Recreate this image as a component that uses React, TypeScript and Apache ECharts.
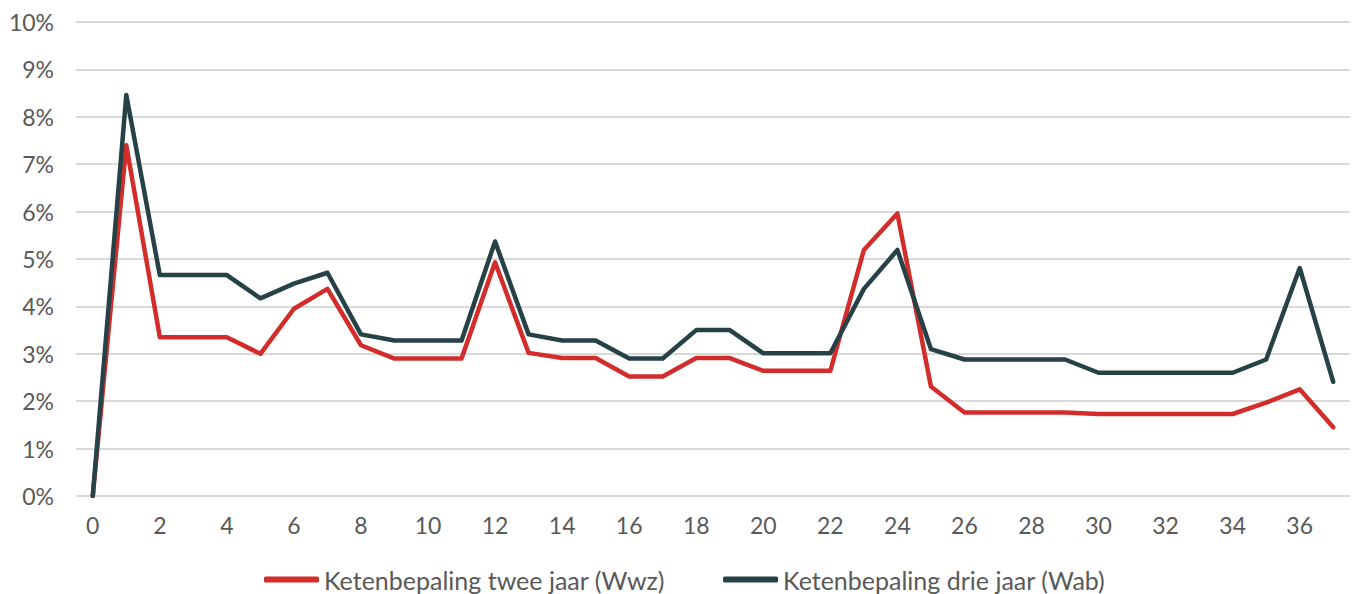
import React, { useEffect, useRef } from "react";
import * as echarts from "echarts";

const categories: string[] = Array.from({ length: 38 }, (_, i) => String(i));

const wwz: number[] = [
  0, 7.4, 3.35, 3.35, 3.35, 3.0, 3.95, 4.37, 3.18, 2.9,
  2.9, 2.9, 4.93, 3.02, 2.91, 2.91, 2.52, 2.52, 2.91, 2.91,
  2.64, 2.64, 2.64, 5.19, 5.96, 2.31, 1.76, 1.76, 1.76, 1.76,
  1.73, 1.73, 1.73, 1.73, 1.73, 1.97, 2.25, 1.45,
];

const wab: number[] = [
  0, 8.46, 4.66, 4.66, 4.66, 4.17, 4.48, 4.71, 3.41, 3.28,
  3.28, 3.28, 5.37, 3.41, 3.28, 3.28, 2.9, 2.9, 3.5, 3.5,
  3.01, 3.01, 3.01, 4.37, 5.19, 3.1, 2.88, 2.88, 2.88, 2.88,
  2.6, 2.6, 2.6, 2.6, 2.6, 2.88, 4.81, 2.41,
];

const seriesNames = ["Ketenbepaling twee jaar (Wwz)", "Ketenbepaling drie jaar (Wab)"];
const colors = ["#D22D2B", "#264247"];

export default function App() {
  const ref = useRef<HTMLDivElement>(null);
  useEffect(() => {
    if (!ref.current) return;
    const chart = echarts.init(ref.current, undefined, { renderer: "svg" });
    const font = "Lato";
    chart.setOption({
      animation: false,
      color: colors,
      grid: { left: 76, right: 3, top: 22, bottom: 98, containLabel: false },
      legend: {
        left: 259,
        top: 562,
        icon: "roundRect",
        itemWidth: 55,
        itemHeight: 6,
        itemGap: 58,
        textStyle: { fontFamily: font, fontSize: 25, color: "#595959" },
        data: seriesNames,
      },
      xAxis: {
        type: "category",
        data: categories,
        boundaryGap: true,
        axisLine: { show: false },
        axisTick: { show: false },
        axisLabel: {
          interval: 1,
          fontFamily: font,
          fontSize: 23,
          color: "#595959",
          margin: 17,
        },
        splitLine: { show: false },
      },
      yAxis: {
        type: "value",
        min: 0,
        max: 10,
        interval: 1,
        axisLine: { show: false },
        axisTick: { show: false },
        axisLabel: {
          formatter: (v: number) => `${v}%`,
          fontFamily: font,
          fontSize: 23,
          color: "#595959",
          margin: 22,
        },
        splitLine: { lineStyle: { color: "#D9D9D9", width: 2 } },
      },
      series: [
        {
          name: seriesNames[0],
          type: "line",
          data: wwz,
          symbol: "none",
          lineStyle: { width: 4.5, color: colors[0], cap: "round", join: "round" },
        },
        {
          name: seriesNames[1],
          type: "line",
          data: wab,
          symbol: "none",
          lineStyle: { width: 4.5, color: colors[1], cap: "round", join: "round" },
        },
      ],
    });
    return () => chart.dispose();
  }, []);
  return (
    <div
      ref={ref}
      style={{ position: "absolute", left: 0, top: 0, width: 1353, height: 594, background: "#fff" }}
    />
  );
}
